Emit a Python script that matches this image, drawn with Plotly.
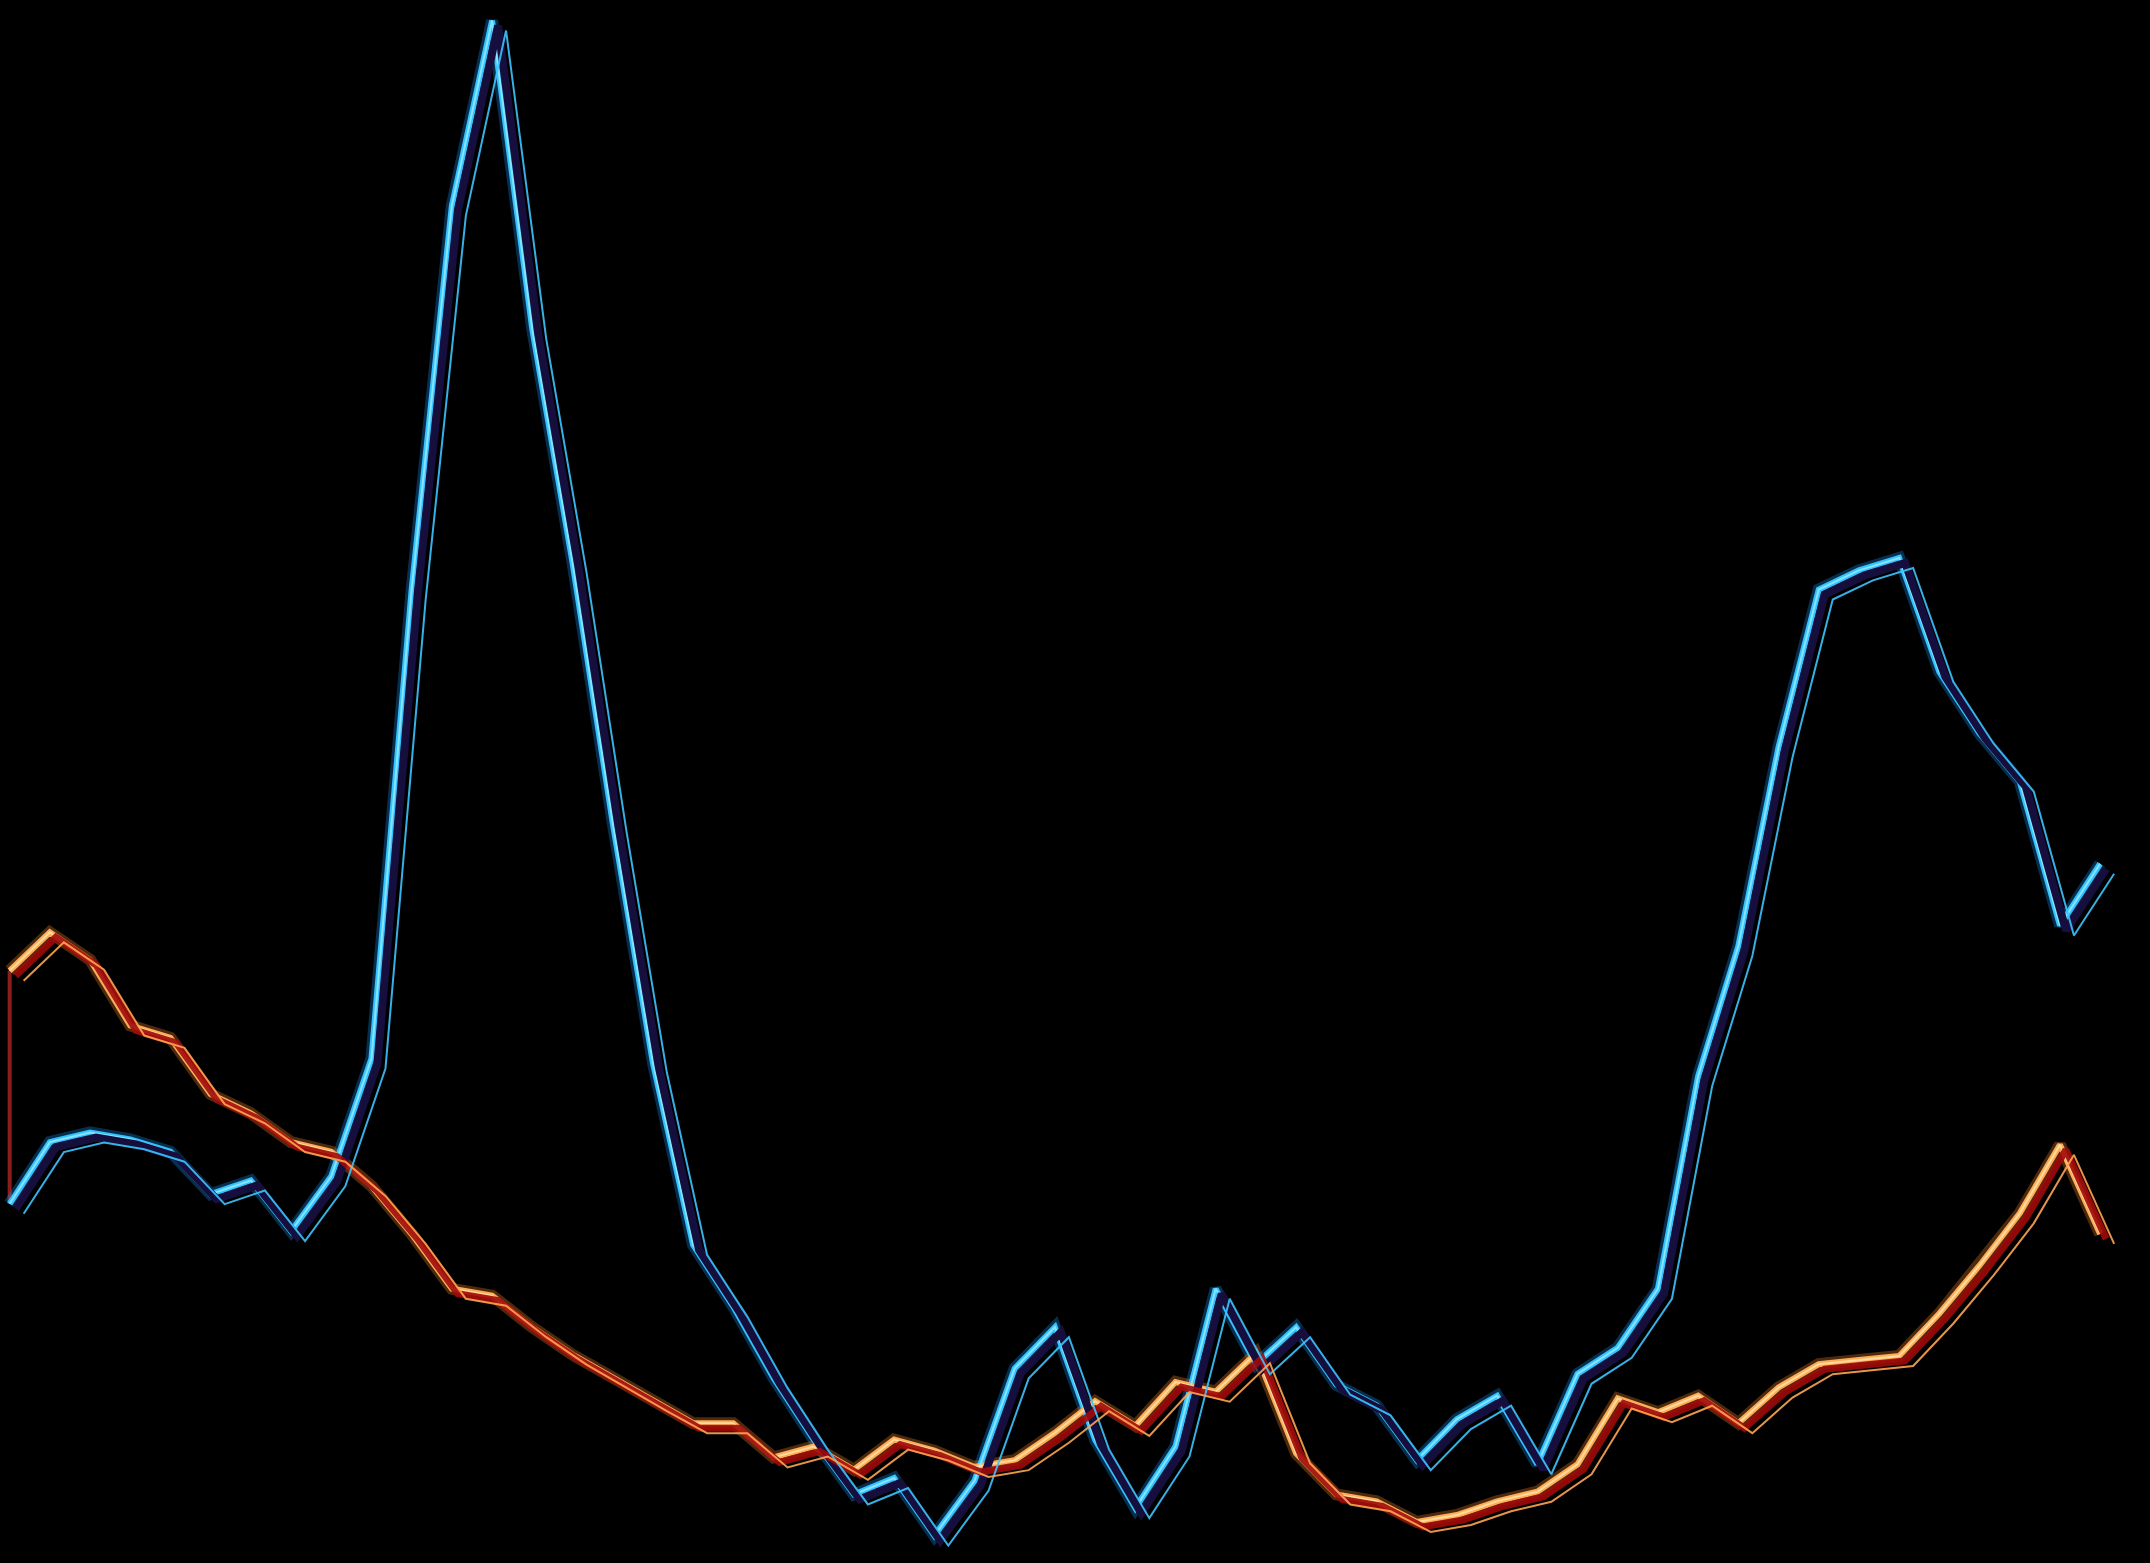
import plotly.graph_objects as go

# two series, 53 samples each
idx = list(range(53))

cyan_vals = [26.2, 30.7, 31.4, 30.9, 30.0, 26.9, 27.9, 24.2, 28.2, 36.8,
             71.0, 99.0, 112.5, 90.0, 73.0, 54.0, 36.5, 23.2, 18.7, 13.5,
             9.0, 5.0, 6.2, 2.0, 6.0, 14.2, 17.2, 9.0, 4.0, 8.5,
             20.0, 14.5, 17.2, 13.0, 11.5, 7.5, 10.5, 12.2, 7.2, 13.8,
             15.7, 20.0, 35.5, 45.0, 59.5, 71.0, 72.4, 73.3, 65.0, 60.5,
             57.0, 46.5, 51.0]

orange_vals = [43.2, 46.0, 44.0, 39.2, 38.3, 34.2, 32.8, 30.7, 30.0, 27.5,
               24.0, 20.0, 19.5, 17.2, 15.2, 13.5, 11.8, 10.2, 10.2, 7.7,
               8.5, 6.8, 9.0, 8.2, 7.0, 7.5, 9.5, 11.8, 10.0, 13.2,
               12.5, 15.3, 8.0, 5.0, 4.5, 3.0, 3.5, 4.5, 5.2, 7.2,
               12.0, 11.0, 12.2, 10.2, 12.8, 14.5, 14.8, 15.1, 18.2, 21.7,
               25.5, 30.5, 24.0]

W, H = 2150, 1563
X0, X1 = -0.24, 53.24
Y0, Y1 = 0, 114
ppx = W / (X1 - X0)
ppy = H / (Y1 - Y0)

fig = go.Figure()

# layer axes: (suffix, shift right px, shift down px)
layers = [("", 0, 0), ("2", 6, 5), ("3", 14, 10)]


def axis_ranges(dx, dy):
    return ([X0 - dx / ppx, X1 - dx / ppx], [Y0 + dy / ppy, Y1 + dy / ppy])


def add_line(y, color, width, opacity, layer):
    fig.add_trace(go.Scatter(
        x=idx, y=y, mode="lines",
        line=dict(color=color, width=width),
        opacity=opacity, hoverinfo="skip", showlegend=False,
        xaxis="x" + layer, yaxis="y" + layer,
    ))


# thin echo lines
add_line(cyan_vals, "#3cc4ff", 2, 0.9, "3")
add_line(orange_vals, "#ffa550", 2, 0.9, "3")
# shadows
add_line(cyan_vals, "#160e3c", 8, 1, "2")
add_line(orange_vals, "#a00a0a", 7, 0.9, "2")

# glitch stroke between the two starts
fig.add_trace(go.Scatter(
    x=[idx[0], idx[0]], y=[orange_vals[0], cyan_vals[0]], mode="lines",
    line=dict(color="#8b1d1d", width=4), hoverinfo="skip", showlegend=False,
))

# glow + core
add_line(cyan_vals, "#1a9cff", 12, 0.3, "")
add_line(orange_vals, "#ff8a30", 12, 0.3, "")
add_line(cyan_vals, "#33c2ff", 6, 1, "")
add_line(orange_vals, "#ffad55", 6, 1, "")
add_line(cyan_vals, "#8fe8ff", 2, 0.9, "")
add_line(orange_vals, "#ffe0a8", 2, 0.9, "")

ax_style = dict(visible=False, showgrid=False, zeroline=False, fixedrange=True)
lay = dict(
    width=W, height=H,
    paper_bgcolor="black", plot_bgcolor="black",
    margin=dict(l=0, r=0, t=0, b=0),
    showlegend=False,
)
for suf, dx, dy in layers:
    xr, yr = axis_ranges(dx, dy)
    xa = dict(ax_style, range=xr)
    ya = dict(ax_style, range=yr)
    if suf:
        xa["overlaying"] = "x"
        ya["overlaying"] = "y"
        xa["anchor"] = "y" + suf
        ya["anchor"] = "x" + suf
    lay["xaxis" + suf] = xa
    lay["yaxis" + suf] = ya

fig.update_layout(**lay)
fig.write_html(
    "out.html",
    config={"displayModeBar": False},
    post_script="document.body.style.margin='0';document.body.style.background='black';",
)
